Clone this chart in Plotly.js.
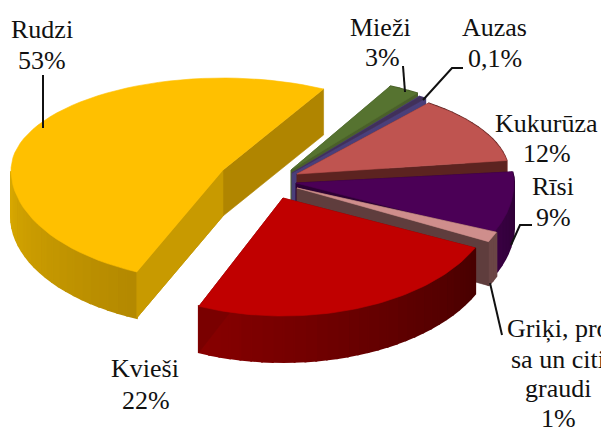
<!DOCTYPE html>
<html>
<head>
<meta charset="utf-8">
<script src="https://cdn.plot.ly/plotly-3.0.1.min.js"></script>
<style>html,body{margin:0;padding:0;background:#fff;overflow:hidden}#c{width:601px;height:428px}</style>
</head>
<body>
<div id="c"></div>
<script>
// Data (share of each grain, percent), clockwise from the back of the pie
var categories = ["Mieži", "Auzas", "Kukurūza", "Rīsi", "Griķi, prosa un citi graudi", "Kvieši", "Rudzi"];
var values = [3, 0.1, 12, 9, 1, 22, 53];
var percentLabels = ["3%", "0,1%", "12%", "9%", "1%", "22%", "53%"];

// Drawing set-up for the tilted, exploded pie
var startAngle = [27, 35.5, 38.2, 83, 112, 115, 204];
var spanFactor = [0.77, 6, 1, 1, 1.4, 1.117, 0.967];
var apexX = [291, 292, 297, 296, 297, 283, 223];
var apexY = [170, 173, 174, 183, 188, 198, 170];
var radiusX = [218, 218, 212, 218, 215, 212, 212];
var radiusBack = [94, 94, 90, 92, 92, 92, 92];
var radiusFront = [115, 115, 115, 118, 118, 118, 111.6];
var depth = [43, 43, 43, 43, 44, 46, 46];
var topColor = ["#567330", "#41305a", "#bf5450", "#4b0056", "#cf8e8c", "#c00000", "#ffc000"];
var edgeColor = ["#4a5f2a", "#4a3f7a", "#5c2320", "#2e0034", "#5f3d3d", "#7a0000", "#b58a00"];
var wallFrom = ["#4a5f2a", "#4a3f7a", "#7a2f2c", "#3a0044", "#6b4646", "#880000", "#d8a800"];
var wallTo = ["#4a5f2a", "#4a3f7a", "#5c2320", "#2a0030", "#6b4646", "#480000", "#b38800"];
var drawOrder = [6, 0, 1, 2, 3, 4, 5];

var traces = [];
function rad(d) { return d * Math.PI / 180; }
function pt(i, deg, drop) {
  var c = Math.cos(rad(deg));
  return [apexX[i] + radiusX[i] * Math.sin(rad(deg)),
          apexY[i] - (c > 0 ? radiusBack[i] : radiusFront[i]) * c + drop];
}
function poly(pts, color, lw) {
  var xs = pts.map(function (p) { return p[0]; });
  var ys = pts.map(function (p) { return p[1]; });
  xs.push(xs[0]); ys.push(ys[0]);
  traces.push({ type: "scatter", mode: "lines", x: xs, y: ys, fill: "toself", fillcolor: color,
    line: { color: color, width: lw || 0.6 }, hoverinfo: "skip", showlegend: false });
}
function hex(c) { return [1, 3, 5].map(function (k) { return parseInt(c.substr(k, 2), 16); }); }
function mix(a, b, t) {
  var A = hex(a), B = hex(b);
  return "rgb(" + A.map(function (v, k) { return Math.round(v + (B[k] - v) * t); }).join(",") + ")";
}
var total = values.reduce(function (s, v) { return s + v; }, 0);

drawOrder.forEach(function (i) {
  var s = startAngle[i], e = s + values[i] / total * 360 * spanFactor[i];
  var apex = [apexX[i], apexY[i]], apexLow = [apexX[i], apexY[i] + depth[i]];
  poly([apex, pt(i, s, 0), pt(i, s, depth[i]), apexLow], i === 6 ? "#b58a00" : edgeColor[i]);
  var step = 3, n = Math.max(1, Math.ceil((e - s) / step));
  for (var k = 0; k < n; k++) {
    var a0 = s + (e - s) * k / n, a1 = s + (e - s) * (k + 1) / n, col;
    var mid = (((a0 + a1) / 2) % 360 + 360) % 360;
    if (i === 6) {
      if (mid > 270 || mid < 180) continue;
      col = mix(wallFrom[i], wallTo[i], Math.min(1, Math.max(0, (270 - mid) / 66)));
    } else {
      col = mix(wallTo[i], wallFrom[i], Math.min(1, Math.max(0, (mid - s) / Math.max(1, e - s))));
    }
    poly([pt(i, a0, 0), pt(i, a1, 0), pt(i, a1, depth[i]), pt(i, a0, depth[i])], col, 2);
  }
  poly([apex, pt(i, e, 0), pt(i, e, depth[i]), apexLow], i === 6 ? "#b08500" : edgeColor[i]);
  if (i === 6) {
    poly([apex, pt(i, s, 0), pt(i, s, depth[i]), apexLow], "#c89a00");
  }
  var face = [apex];
  for (var d = 0; d <= 60; d++) face.push(pt(i, s + (e - s) * d / 60, 0));
  poly(face, topColor[i]);
});

function leader(xs, ys) {
  traces.push({ type: "scatter", mode: "lines", x: xs, y: ys, line: { color: "#111", width: 2 },
    hoverinfo: "skip", showlegend: false });
}
leader([43, 43], [75, 128]);
leader([403, 405], [66, 92]);
leader([423, 452, 463], [100, 68, 68]);
leader([511, 520, 532], [245, 225, 225]);
leader([490, 502], [283, 335]);

var labelFont = { family: "'Liberation Serif'", size: 26, color: "#111" };
function note(x, y, text) {
  return { x: x, y: y, xref: "x", yref: "y", text: text, showarrow: false, font: labelFont,
    xanchor: "center", yanchor: "middle", align: "center" };
}
var annotations = [
  note(42, 29, "Rudzi"), note(42, 60, percentLabels[6]),
  note(380, 27, "Mieži"), note(382, 57, percentLabels[0]),
  note(494, 27, "Auzas"), note(495, 58, percentLabels[1]),
  note(546, 123, "Kukurūza"), note(547, 153, percentLabels[2]),
  note(553, 186, "Rīsi"), note(553, 217, percentLabels[3]),
  note(145, 368, "Kvieši"), note(146, 400, percentLabels[5]),
  note(558, 328, "Griķi, pro"), note(558, 359, "sa un citi"), note(558, 388, "graudi"), note(558, 418, percentLabels[4])
];

Plotly.newPlot("c", traces, {
  width: 601, height: 428,
  margin: { l: 0, r: 0, t: 0, b: 0 },
  paper_bgcolor: "#fff", plot_bgcolor: "#fff",
  showlegend: false,
  xaxis: { range: [0, 601], visible: false, fixedrange: true },
  yaxis: { range: [428, 0], visible: false, fixedrange: true },
  annotations: annotations
}, { displayModeBar: false, staticPlot: true });
</script>
</body>
</html>
